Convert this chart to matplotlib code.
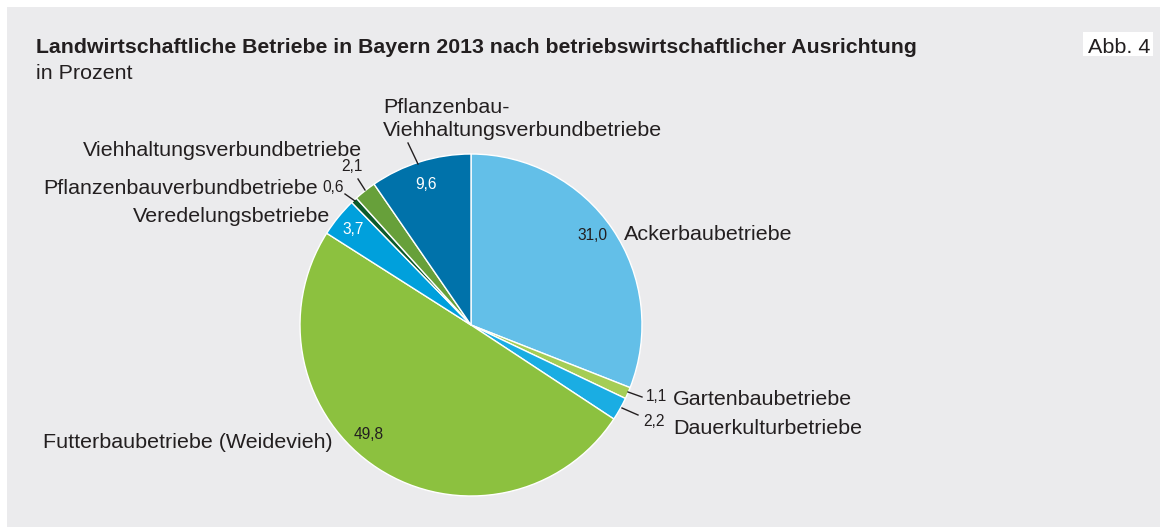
import matplotlib
matplotlib.use("Agg")
import matplotlib.pyplot as plt
from matplotlib.patches import Rectangle

plt.rcParams['font.family'] = ['Liberation Sans', 'DejaVu Sans']

categories = ["Ackerbaubetriebe", "Gartenbaubetriebe", "Dauerkulturbetriebe",
              "Futterbaubetriebe (Weidevieh)", "Veredelungsbetriebe",
              "Pflanzenbauverbundbetriebe", "Viehhaltungsverbundbetriebe",
              "Pflanzenbau-\nViehhaltungsverbundbetriebe"]
values = [31.0, 1.1, 2.2, 49.8, 3.7, 0.6, 2.1, 9.6]
value_labels = ["31,0", "1,1", "2,2", "49,8", "3,7", "0,6", "2,1", "9,6"]
colors = ["#63bfe8", "#a5cd55", "#1aade3", "#8cc13f", "#00a0dc",
          "#0d5a2b", "#67a03a", "#0072aa"]

W, H = 1162, 527
fig = plt.figure(figsize=(W / 100, H / 100), dpi=100)
fig.patch.set_facecolor("white")
ax = fig.add_axes([0, 0, 1, 1])

def Y(y):
    return H - y

TXT = "#231f20"
ax.add_patch(Rectangle((7, Y(527)), 1153, 520, facecolor="#ebebed", edgecolor="none", zorder=0))
ax.add_patch(Rectangle((1083, Y(56)), 70, 24, facecolor="white", edgecolor="none", zorder=1))

cx, cy, R = 471, 325, 171
wedges, _ = ax.pie(values, colors=colors, startangle=90, counterclock=False,
                   center=(cx, Y(cy)), radius=R,
                   wedgeprops=dict(edgecolor="white", linewidth=1.0))
for w in wedges:
    w.set_zorder(2)

ax.set_xlim(0, W)
ax.set_ylim(0, H)
ax.set_aspect("auto")
ax.axis("off")

def txt(x, y, s, size_px, ha="left", color=TXT, weight="normal"):
    # y is visual cap-center in image pixels
    base = y + 0.716 * size_px / 2
    ax.text(x, Y(base), s, fontsize=size_px * 0.72, ha=ha, va="baseline",
            color=color, weight=weight, zorder=5)

LBL = 21.5
NUM = 15.5
# title
txt(36, 45, "Landwirtschaftliche Betriebe in Bayern 2013 nach betriebswirtschaftlicher Ausrichtung", 21.3, weight="bold")
txt(36, 71, "in Prozent", LBL)
txt(1088, 45, "Abb. 4", LBL)

# category labels
txt(624, 232.5, categories[0], LBL)
txt(673, 397, categories[1], LBL)
txt(673, 426, categories[2], LBL)
txt(43, 440.5, categories[3], LBL)
txt(133, 214, categories[4], LBL)
txt(43, 186, categories[5], LBL)
txt(83, 148, categories[6], LBL)
l1, l2 = categories[7].split("\n")
txt(383, 105, l1, LBL)
txt(383, 128, l2, LBL)

# value labels
txt(592, 234, value_labels[0], NUM, ha="center")
txt(656.5, 395, value_labels[1], NUM, ha="center")
txt(654.5, 420.5, value_labels[2], NUM, ha="center")
txt(369, 433, value_labels[3], NUM, ha="center")
txt(353.5, 228, value_labels[4], NUM, ha="center", color="white")
txt(333, 186, value_labels[5], NUM, ha="center")
txt(352, 165, value_labels[6], NUM, ha="center")
txt(426, 183, value_labels[7], NUM, ha="center", color="white")

# leader lines
leaders = [((628, 392), (642, 397)), ((622, 408), (638, 415)),
           ((345, 194), (355, 201)), ((358, 179), (365, 190)),
           ((408, 143), (418, 164))]
for (x0, y0), (x1, y1) in leaders:
    ax.plot([x0, x1], [Y(y0), Y(y1)], color=TXT, lw=1.0, zorder=4)

fig.savefig("out.png", dpi=100, facecolor="white")
